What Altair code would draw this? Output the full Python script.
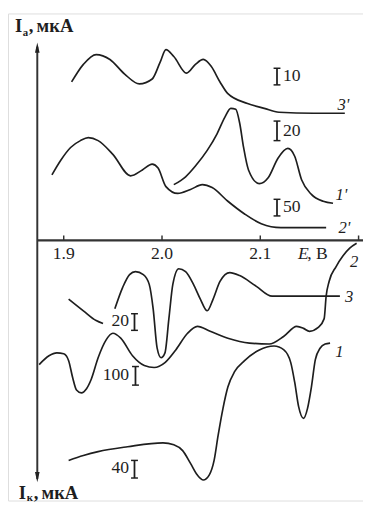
import altair as alt
import pandas as pd

# ---- curves: potential E (V) and current (relative units, each curve offset) ----
c3p_E = [1.908, 1.920, 1.933, 1.947, 1.962, 1.977, 1.990, 1.998, 2.004, 2.012, 2.025, 2.034, 2.042, 2.050, 2.059, 2.067, 2.087, 2.104, 2.119, 2.154, 2.186]
c3p_I = [162, 180, 190, 185, 170, 160, 165, 182, 195, 188, 171, 180, 185, 178, 162, 150, 140, 135, 131, 130, 130]

c1p_E = [2.012, 2.024, 2.034, 2.046, 2.056, 2.064, 2.070, 2.075, 2.079, 2.083, 2.088, 2.099, 2.108, 2.118, 2.128, 2.135, 2.142, 2.152, 2.164, 2.174]
c1p_I = [57, 65, 76, 92, 109, 126, 135, 134, 120, 95, 72, 58, 64, 84, 94, 86, 62, 47, 40, 38]

c2p_E = [1.888, 1.897, 1.907, 1.917, 1.925, 1.935, 1.950, 1.968, 1.980, 1.990, 1.996, 2.004, 2.016, 2.029, 2.041, 2.051, 2.067, 2.084, 2.101, 2.121, 2.167]
c2p_I = [67, 82, 95, 102, 105, 102, 88, 66, 72, 78, 74, 55, 48, 52, 57, 54, 40, 27, 17, 13, 13]

c3a_E = [1.905, 1.920, 1.933, 1.940]
c3a_I = [-60, -72, -82, -85]
c3b_E = [1.952, 1.960, 1.967, 1.973, 1.981, 1.987, 1.991, 1.995, 1.999, 2.003, 2.007, 2.011, 2.017, 2.024, 2.032, 2.039, 2.046, 2.052, 2.059, 2.069, 2.079, 2.096, 2.112, 2.144, 2.181]
c3b_I = [-70, -48, -35, -32, -35, -45, -70, -110, -120, -115, -80, -45, -29, -32, -45, -60, -72, -60, -42, -33, -36, -47, -57, -57, -57]

c2_E = [1.875, 1.885, 1.893, 1.900, 1.905, 1.909, 1.913, 1.918, 1.923, 1.928, 1.935, 1.943, 1.950, 1.958, 1.970, 1.982, 1.992, 2.003, 2.014, 2.026, 2.036, 2.049, 2.067, 2.089, 2.109, 2.124, 2.137, 2.144, 2.150, 2.159, 2.165, 2.167, 2.170, 2.177, 2.184, 2.191, 2.198]
c2_I = [-127, -118, -115, -116, -123, -140, -153, -156, -152, -142, -120, -102, -95, -100, -118, -128, -130, -125, -112, -95, -88, -93, -100, -105, -106, -98, -88, -90, -93, -89, -80, -57, -42, -27, -16, -8, -3]

c1_E = [1.905, 1.920, 1.935, 1.965, 2.001, 2.012, 2.021, 2.029, 2.036, 2.042, 2.048, 2.053, 2.057, 2.062, 2.067, 2.074, 2.084, 2.099, 2.114, 2.124, 2.131, 2.135, 2.139, 2.144, 2.148, 2.152, 2.156, 2.161, 2.166, 2.171]
c1_I = [-225, -220, -216, -211, -207, -209, -215, -228, -240, -245, -240, -225, -200, -172, -150, -134, -123, -112, -108, -112, -125, -145, -170, -182, -172, -150, -122, -110, -106, -105]

# ---- scale bars ----
bar_E = [2.117, 2.117, 2.117, 1.972, 1.973, 1.972]
bar_top = [176, 122, 42, -75, -129, -225]
bar_bot = [159, 102, 25, -92, -148, -243]
bar_lab = ["10", "20", "50", "20", "100", "40"]
bar_lab_E = [2.123, 2.123, 2.123, 1.9665, 1.9665, 1.9665]
bar_lab_I = [168, 112, 34, -83, -138, -233]
bar_side = ["right", "right", "right", "left", "left", "left"]

# ---- curve labels ----
clab_text = ["3'", "1'", "2'", "2", "3", "1"]
clab_E = [2.1846, 2.1826, 2.1856, 2.1955, 2.1905, 2.1806]
clab_I = [138, 46, 13, -22, -58, -114]

# ---- axis ticks ----
tick_E = [1.9, 2.0, 2.1, 2.2]
tick_lab = ["1.9", "2.0", "2.1", ""]

X_DOM = [1.8433, 2.2045]
Y_DOM = [-266, 232]
FONT = "Liberation Serif"
INK = "#1e1e1e"
FS = 18

xs = alt.Scale(domain=X_DOM, nice=False, zero=False)
ys = alt.Scale(domain=Y_DOM, nice=False, zero=False)
X = lambda f: alt.X(f, type="quantitative", scale=xs, axis=None)
Y = lambda f: alt.Y(f, type="quantitative", scale=ys, axis=None)

rows = []
for name, E, I in [("3'", c3p_E, c3p_I), ("1'", c1p_E, c1p_I), ("2'", c2p_E, c2p_I),
                   ("3a", c3a_E, c3a_I), ("3b", c3b_E, c3b_I), ("2", c2_E, c2_I), ("1", c1_E, c1_I)]:
    for k, (e, i) in enumerate(zip(E, I)):
        rows.append({"E": e, "I": i, "curve": name, "k": k})
curves = pd.DataFrame(rows)

lines = alt.Chart(curves).mark_line(interpolate="monotone", color=INK, strokeWidth=1.7).encode(
    x=X("E"), y=Y("I"), detail="curve:N", order="k:Q")

# axes
axis_h = pd.DataFrame({"E": [1.8731], "E2": [2.2045], "I": [0]})
haxis = alt.Chart(axis_h).mark_rule(color="#333", strokeWidth=2.5).encode(
    x=X("E"), x2="E2", y=Y("I"))
axis_v = pd.DataFrame({"E": [1.8731], "I": [198], "I2": [-244]})
vaxis = alt.Chart(axis_v).mark_rule(color="#333", strokeWidth=2).encode(
    x=X("E"), y=Y("I"), y2="I2")
arrows = pd.DataFrame({"E": [1.8731, 1.8731], "I": [197, -242],
                       "shape": ["M0,-1L0.45,1L-0.45,1Z", "M0,1L0.45,-1L-0.45,-1Z"]})
arrow_marks = alt.Chart(arrows).mark_point(filled=True, color="#222", size=110, opacity=1).encode(
    x=X("E"), y=Y("I"), shape=alt.Shape("shape:N", scale=None))

ticks = pd.DataFrame({"E": tick_E, "lab": tick_lab, "I": [0] * 4, "I2": [5] * 4, "Il": [-19] * 4})
tick_marks = alt.Chart(ticks).mark_rule(color="#333", strokeWidth=1.5).encode(
    x=X("E"), y=Y("I"), y2="I2")
tick_text = alt.Chart(ticks).mark_text(font=FONT, fontSize=FS, color=INK, baseline="alphabetic").encode(
    x=X("E"), y=Y("Il"), text="lab:N")

# E, В label
elab = pd.DataFrame({"E": [2.1383], "I": [-19], "t": ["E"]})
elab2 = pd.DataFrame({"E": [2.1478], "I": [-19], "t": [", В"]})
e_text = alt.Chart(elab).mark_text(font=FONT, fontSize=FS, fontStyle="italic", color=INK,
                                   align="left", baseline="alphabetic").encode(x=X("E"), y=Y("I"), text="t:N")
e_text2 = alt.Chart(elab2).mark_text(font=FONT, fontSize=FS, color=INK,
                                     align="left", baseline="alphabetic").encode(x=X("E"), y=Y("I"), text="t:N")

# y-axis titles
ttl_main = pd.DataFrame({"E": [1.8503, 1.8645, 1.8724, 1.8542, 1.8694, 1.8774],
                         "I": [213, 213, 213, -264, -264, -264],
                         "t": ["I", ",", "мкА", "I", ",", "мкА"]})
ttl_sub = pd.DataFrame({"E": [1.8583, 1.8624], "I": [209, -267], "t": ["а", "к"]})
ttl1 = alt.Chart(ttl_main).mark_text(font=FONT, fontSize=19, fontWeight="bold", color=INK,
                                     align="left", baseline="alphabetic").encode(x=X("E"), y=Y("I"), text="t:N")
ttl2 = alt.Chart(ttl_sub).mark_text(font=FONT, fontSize=11, fontWeight="bold", color=INK,
                                    align="left", baseline="alphabetic").encode(x=X("E"), y=Y("I"), text="t:N")

# scale bars
bars = pd.DataFrame({"E": bar_E, "top": bar_top, "bot": bar_bot,
                     "El": [e - 0.0035 for e in bar_E], "Er": [e + 0.0035 for e in bar_E],
                     "lab": bar_lab, "lE": bar_lab_E, "lI": bar_lab_I, "side": bar_side})
bar_v = alt.Chart(bars).mark_rule(color=INK, strokeWidth=1.8).encode(x=X("E"), y=Y("top"), y2="bot")
bar_c1 = alt.Chart(bars).mark_rule(color=INK, strokeWidth=1.5).encode(x=X("El"), x2="Er", y=Y("top"))
bar_c2 = alt.Chart(bars).mark_rule(color=INK, strokeWidth=1.5).encode(x=X("El"), x2="Er", y=Y("bot"))
bars_r = bars[bars.side == "right"]
bars_l = bars[bars.side == "left"]
bar_t1 = alt.Chart(bars_r).mark_text(font=FONT, fontSize=FS, color=INK, align="left", baseline="middle").encode(
    x=X("lE"), y=Y("lI"), text="lab:N")
bar_t2 = alt.Chart(bars_l).mark_text(font=FONT, fontSize=FS, color=INK, align="right", baseline="middle").encode(
    x=X("lE"), y=Y("lI"), text="lab:N")

clabs = pd.DataFrame({"E": clab_E, "I": clab_I, "t": clab_text})
clab_marks = alt.Chart(clabs).mark_text(font=FONT, fontSize=17, fontStyle="italic", color=INK,
                                        baseline="middle").encode(x=X("E"), y=Y("I"), text="t:N")

chart = alt.layer(
    lines, haxis, vaxis, arrow_marks, tick_marks, tick_text, e_text, e_text2, ttl1, ttl2,
    bar_v, bar_c1, bar_c2, bar_t1, bar_t2, clab_marks
).properties(
    width=363, height=498, padding=0, autosize=alt.AutoSizeParams(type="none")
).configure_view(stroke=None).configure(background="white")

chart.save("out.html", embed_options={"renderer": "svg", "actions": False})
